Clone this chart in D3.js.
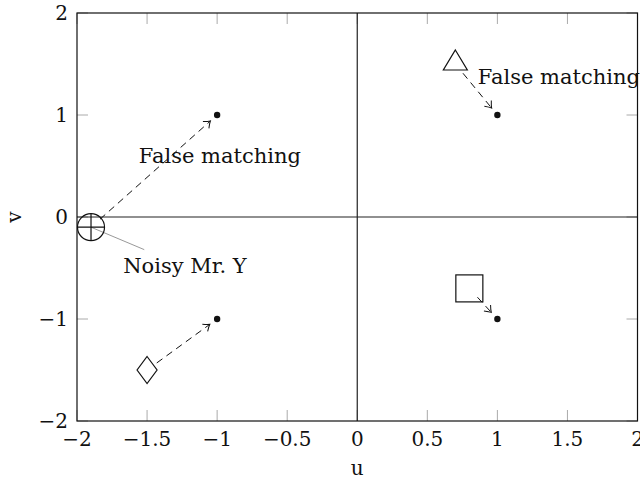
<!DOCTYPE html>
<html>
<head>
<meta charset="utf-8">
<script src="https://cdn.jsdelivr.net/npm/d3@7"></script>
<style>
  body { margin: 0; background: #fff; }
  text { font-family: "DejaVu Serif", serif; fill: #111; }
</style>
</head>
<body>
<div id="chart"></div>
<script>
// Data
var xTicks = [-2, -1.5, -1, -0.5, 0, 0.5, 1, 1.5, 2];
var yTicks = [-2, -1, 0, 1, 2];
var markerShapes = ["circle", "triangle", "square", "diamond"];
var markerPos = [[-1.9, -0.1], [0.7, 1.5], [0.8, -0.7], [-1.5, -1.5]];
var targets = [[-1, 1], [1, 1], [1, -1], [-1, -1]];
var labels = [
  {text: "False matching", x: -0.98, y: 0.53, anchor: "middle"},
  {text: "False matching", x: 0.86, y: 1.3, anchor: "start"},
  {text: "Noisy Mr. Y", x: -1.67, y: -0.55, anchor: "start"}
];
var noisyPointer = [[-1.9, -0.1], [-1.52, -0.32]];

var width = 640, height = 479;
var margin = {left: 77, right: 2, top: 13, bottom: 58};

var svg = d3.select("#chart").append("svg")
  .attr("width", width)
  .attr("height", height);

var x = d3.scaleLinear().domain([-2, 2]).range([margin.left, width - margin.right - 0.5]);
var y = d3.scaleLinear().domain([-2, 2]).range([height - margin.bottom, margin.top]);

// arrow head like TikZ "to"
svg.append("defs").append("marker")
  .attr("id", "arrow")
  .attr("viewBox", "-8 -6 10 12")
  .attr("markerWidth", 10)
  .attr("markerHeight", 12)
  .attr("markerUnits", "userSpaceOnUse")
  .attr("refX", 0).attr("refY", 0)
  .attr("orient", "auto")
  .append("path")
  .attr("d", "M-6,-4.5 Q-2,-1 0,0 Q-2,1 -6,4.5")
  .attr("fill", "none")
  .attr("stroke", "#111")
  .attr("stroke-width", 1);

var plot = svg.append("g");

// ticks (inward, all four sides)
var tickLen = 11;
var tickColor = "#aaa";
xTicks.forEach(function (t) {
  plot.append("line").attr("x1", x(t)).attr("x2", x(t))
    .attr("y1", y(-2)).attr("y2", y(-2) - tickLen)
    .attr("stroke", tickColor);
  plot.append("line").attr("x1", x(t)).attr("x2", x(t))
    .attr("y1", y(2)).attr("y2", y(2) + tickLen)
    .attr("stroke", tickColor);
});
yTicks.forEach(function (t) {
  plot.append("line").attr("y1", y(t)).attr("y2", y(t))
    .attr("x1", x(-2)).attr("x2", x(-2) + tickLen)
    .attr("stroke", tickColor);
  plot.append("line").attr("y1", y(t)).attr("y2", y(t))
    .attr("x1", x(2)).attr("x2", x(2) - tickLen)
    .attr("stroke", tickColor);
});

// zero lines
plot.append("line").attr("x1", x(-2)).attr("x2", x(2))
  .attr("y1", y(0)).attr("y2", y(0))
  .attr("stroke", "#222").attr("stroke-width", 1.2);
plot.append("line").attr("x1", x(0)).attr("x2", x(0))
  .attr("y1", y(-2)).attr("y2", y(2))
  .attr("stroke", "#222").attr("stroke-width", 1.2);

// frame
plot.append("rect")
  .attr("x", x(-2)).attr("y", y(2))
  .attr("width", x(2) - x(-2)).attr("height", y(-2) - y(2))
  .attr("fill", "none").attr("stroke", "#111").attr("stroke-width", 1.2);

// tick labels
var fmt = function (d) { return d3.format("")(d).replace("-", "\u2212"); };
svg.selectAll(".xl").data(xTicks).enter().append("text")
  .attr("x", function (d) { return x(d); })
  .attr("y", 446)
  .attr("text-anchor", "middle")
  .style("font-size", "20px")
  .text(fmt);
svg.selectAll(".yl").data(yTicks).enter().append("text")
  .attr("x", x(-2) - 9)
  .attr("y", function (d) { return y(d); })
  .attr("dy", "0.36em")
  .attr("text-anchor", "end")
  .style("font-size", "20px")
  .text(fmt);

// axis labels
svg.append("text").attr("x", x(0)).attr("y", 475)
  .attr("text-anchor", "middle").style("font-size", "20px").text("u");
svg.append("text").attr("transform", "translate(21," + y(0) + ") rotate(-90)")
  .attr("text-anchor", "middle").style("font-size", "20px").text("v");

// pointer for noisy label
plot.append("line")
  .attr("x1", x(noisyPointer[0][0])).attr("y1", y(noisyPointer[0][1]))
  .attr("x2", x(noisyPointer[1][0])).attr("y2", y(noisyPointer[1][1]))
  .attr("stroke", "#999").attr("stroke-width", 1);

// dashed arrows from markers to targets
markerPos.forEach(function (m, i) {
  var x0 = x(m[0]), y0 = y(m[1]);
  var x1 = x(targets[i][0]), y1 = y(targets[i][1]);
  var dx = x1 - x0, dy = y1 - y0, len = Math.sqrt(dx * dx + dy * dy);
  var ux = dx / len, uy = dy / len;
  var s0 = 12, s1 = 9;
  plot.append("line")
    .attr("x1", x0 + ux * s0).attr("y1", y0 + uy * s0)
    .attr("x2", x1 - ux * s1).attr("y2", y1 - uy * s1)
    .attr("stroke", "#111").attr("stroke-width", 1)
    .attr("stroke-dasharray", "7,5")
    .attr("marker-end", "url(#arrow)");
});

// markers
markerPos.forEach(function (m, i) {
  var cx = x(m[0]), cy = y(m[1]);
  var g = plot.append("g").attr("transform", "translate(" + cx + "," + cy + ")");
  var shape = markerShapes[i];
  var st = function (s) { return s.attr("fill", "none").attr("stroke", "#111").attr("stroke-width", 1.2); };
  if (shape === "circle") {
    st(g.append("circle").attr("r", 13.5));
    st(g.append("path").attr("d", "M-13.5,0H13.5M0,-13.5V13.5"));
  } else if (shape === "triangle") {
    st(g.append("path").attr("d", "M0,-14L12,6H-12Z"));
  } else if (shape === "square") {
    st(g.append("rect").attr("x", -13.5).attr("y", -13.5).attr("width", 27).attr("height", 27));
  } else {
    st(g.append("path").attr("d", "M0,-13.5L10,0L0,13.5L-10,0Z"));
  }
});

// target dots
plot.selectAll(".dot").data(targets).enter().append("circle")
  .attr("cx", function (d) { return x(d[0]); })
  .attr("cy", function (d) { return y(d[1]); })
  .attr("r", 3.2)
  .attr("fill", "#111");

// labels
labels.forEach(function (l) {
  svg.append("text")
    .attr("x", x(l.x)).attr("y", y(l.y))
    .attr("text-anchor", l.anchor)
    .style("font-size", "21px")
    .text(l.text);
});
</script>
</body>
</html>
